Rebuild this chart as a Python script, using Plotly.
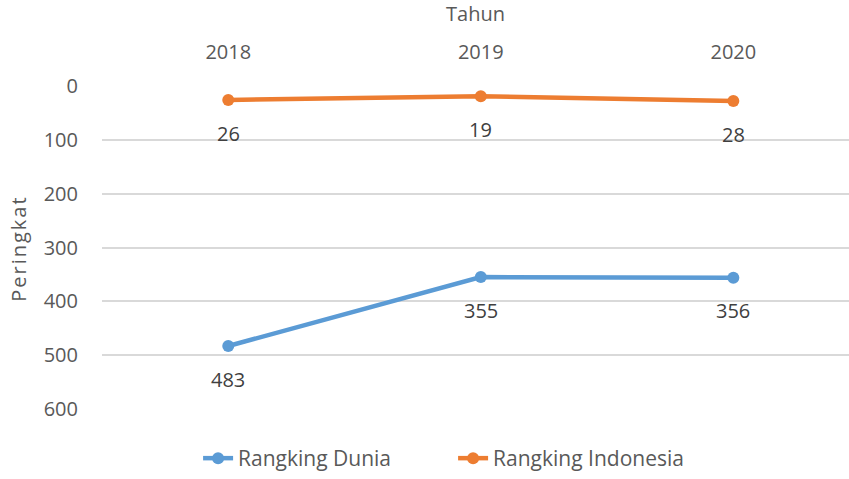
import plotly.graph_objects as go

years = [2018, 2019, 2020]
rank_dunia = [483, 355, 356]
rank_indonesia = [26, 19, 28]

blue = "#5B9BD5"
orange = "#ED7D31"
text_color = "#595959"
font_family = "Open Sans, Liberation Sans, sans-serif"
fs = 20

xpos = list(range(len(years)))

fig = go.Figure()
fig.add_trace(go.Scatter(
    x=xpos, y=rank_dunia, mode="lines+markers", name="Rangking Dunia",
    line=dict(color=blue, width=4.5), marker=dict(size=12, color=blue),
))
fig.add_trace(go.Scatter(
    x=xpos, y=rank_indonesia, mode="lines+markers", name="Rangking Indonesia",
    line=dict(color=orange, width=4.5), marker=dict(size=12, color=orange),
))

# value labels under each point
for series in (rank_dunia, rank_indonesia):
    for xi, v in zip(xpos, series):
        fig.add_annotation(x=xi, y=v, text=str(v), showarrow=False,
                           yshift=-33, font=dict(size=fs, color="#404040", family=font_family))

# vertical axis title
fig.add_annotation(xref="paper", yref="paper", x=-0.112, y=0.494,
                   xanchor="center", yanchor="middle", textangle=-90,
                   text="P e r i n g k a t".replace(" ", "\u200a"), showarrow=False,
                   font=dict(size=fs, color=text_color, family=font_family))

fig.update_layout(
    width=849, height=479,
    margin=dict(l=102, r=0, t=86, b=69),
    paper_bgcolor="white", plot_bgcolor="white",
    font=dict(family=font_family, size=fs, color=text_color),
    legend=dict(orientation="h", x=0.47, xanchor="center", y=-0.155, yanchor="middle",
                entrywidth=210, font=dict(size=21, color=text_color)),
)
fig.update_xaxes(
    side="top", tickmode="array", tickvals=xpos, ticktext=[str(y) for y in years],
    range=[-0.5, 2.458], showgrid=False, zeroline=False, showline=False,
    ticks="", ticklabelstandoff=22,
    title=dict(text="Tahun", standoff=11, font=dict(size=fs, color=text_color)),
)
fig.update_yaxes(
    range=[600, 0], dtick=100, showgrid=True, gridcolor="#D9D9D9", gridwidth=1.5,
    zeroline=False, showline=False, ticks="", ticklabelstandoff=23,
)

fig.write_html("out.html")
